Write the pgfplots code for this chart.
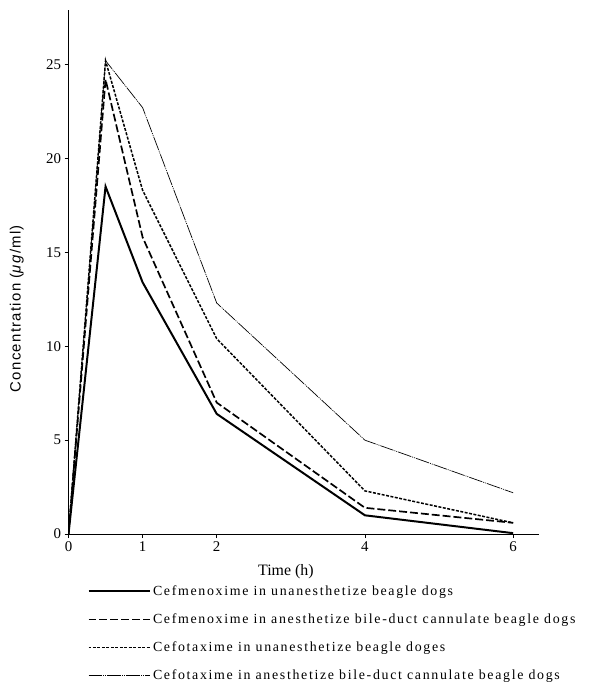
\documentclass[border=0pt]{standalone}
\usepackage{fontspec}
\setmainfont{Liberation Serif}
\newfontfamily\legfont[LetterSpace=12]{Liberation Serif}
\newfontfamily\labfont[LetterSpace=9]{Liberation Sans}
\usepackage{pgfplots}
\pgfplotsset{compat=1.18}
\begin{document}
\begin{tikzpicture}
\useasboundingbox (-69pt,-152pt) rectangle (529pt,538pt);
\begin{axis}[
  scale only axis,
  width=474pt, height=528pt,
  xmin=0, xmax=6.35, ymin=0, ymax=27.9,
  axis x line=bottom, axis y line=left,
  axis line style={-, line width=0.9pt},
  xtick={0,1,2,4,6}, ytick={0,5,10,15,20,25},
  tick align=outside, major tick length=4pt,
  tick style={line width=0.8pt, black},
  tick label style={font=\fontsize{15}{17}\selectfont},
  /pgf/number format/assume math mode=true,
  xlabel={Time (h)}, ylabel={Concentration (\textit{μg}/ml)},
  xlabel style={font=\fontsize{16}{18}\selectfont,
    at={(axis description cs:0.462,-0.072)}, anchor=center},
  ylabel style={font=\labfont\fontsize{15}{17}\selectfont,
    at={(axis description cs:-0.11,0.43)}, anchor=center},
  legend style={at={(axis description cs:0.04,-0.094)}, anchor=north west, draw=none,
    font=\legfont\fontsize{14}{16}\selectfont, row sep=13pt,
    inner sep=0pt, legend cell align=left},
  legend image code/.code={\draw[#1] (0pt,0pt) -- (62pt,0pt);},
]
% Cefmenoxime, unanesthetized
\addplot[black, line width=2pt] coordinates {
  (0,0) (0.5,18.5) (1,13.4) (2,6.4) (4,1.0) (6,0.05)
};
% Cefmenoxime, anesthetized, bile-duct cannulated
\addplot[black, line width=1.7pt, dash pattern=on 8pt off 3pt] coordinates {
  (0,0) (0.5,24.2) (1,15.8) (2,7.0) (4,1.4) (6,0.6)
};
% Cefotaxime, unanesthetized
\addplot[black, line width=1.5pt, dash pattern=on 3pt off 1.5pt] coordinates {
  (0,0) (0.5,25.2) (1,18.3) (2,10.4) (4,2.3) (6,0.6)
};
% Cefotaxime, anesthetized, bile-duct cannulated
\addplot[black, line width=0.7pt, dash pattern=on 14pt off 1pt on 1pt off 1pt on 1pt off 1pt] coordinates {
  (0,0) (0.5,25.2) (1,22.7) (2,12.3) (4,5.0) (6,2.2)
};
\legend{Cefmenoxime in unanesthetize beagle dogs,
  Cefmenoxime in anesthetize bile-duct cannulate beagle dogs,
  Cefotaxime in unanesthetize beagle doges,
  Cefotaxime in anesthetize bile-duct cannulate beagle dogs}
\end{axis}
\end{tikzpicture}
\end{document}
